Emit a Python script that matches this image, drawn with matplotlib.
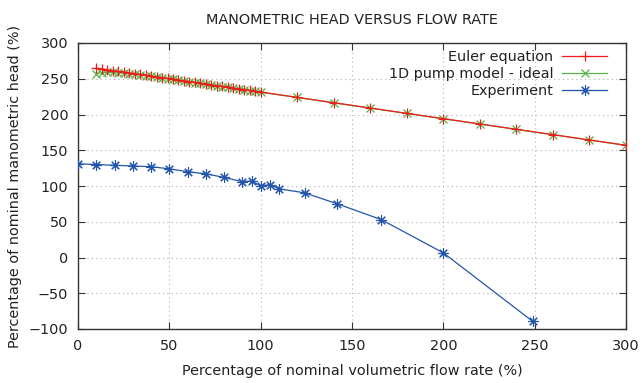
import matplotlib
matplotlib.use("Agg")
import matplotlib.pyplot as plt

# ---- data ----
flow_model = [10, 13, 16, 19, 22, 25, 28, 31, 34, 37, 40, 43, 46, 49, 52, 55, 58,
              61, 64, 67, 70, 73, 76, 79, 82, 85, 88, 91, 94, 97, 100,
              120, 140, 160, 180, 200, 220, 240, 260, 280, 300]
euler_head = [264.9, 263.8, 262.6, 261.5, 260.4, 259.3, 258.2, 257.1, 256.0, 254.8,
              253.7, 252.6, 251.5, 250.4, 249.3, 248.2, 247.0, 245.9, 244.8, 243.7,
              242.6, 241.4, 240.3, 239.2, 238.1, 237.0, 235.9, 234.7, 233.6, 232.5,
              231.4, 224.0, 216.5, 209.1, 201.6, 194.2, 186.8, 179.3, 171.9, 164.4, 157.0]
ideal_head = [257.0, 258.3, 258.8, 258.8, 258.4, 257.8, 257.1, 256.4, 255.5, 254.4,
              253.4, 252.3, 251.2, 250.1, 249.0, 247.9, 246.8, 245.7, 244.6, 243.5,
              242.4, 241.2, 240.1, 239.0, 237.9, 236.8, 235.7, 234.5, 233.4, 232.3,
              231.2, 223.8, 216.3, 208.9, 201.4, 194.0, 186.6, 179.1, 171.7, 164.2, 156.8]
flow_exp = [0, 10, 20, 30, 40, 50, 60, 70, 80, 90, 95, 100, 105, 110, 124, 142, 166, 200, 249]
head_exp = [131, 130, 129, 128, 127, 124, 120, 117, 112, 106, 107, 100, 102, 96, 90.5,
            75, 53, 6.5, -89.5]

x_ticks = [0, 50, 100, 150, 200, 250, 300]
y_ticks = [-100, -50, 0, 50, 100, 150, 200, 250, 300]

title = "MANOMETRIC HEAD VERSUS FLOW RATE"
xlabel = "Percentage of nominal volumetric flow rate (%)"
ylabel = "Percentage of nominal manometric head (%)"

# ---- style ----
fs = 10.4
plt.rcParams['font.family'] = ['DejaVu Sans']
plt.rcParams['font.size'] = fs
text_c = '#222222'

W, H = 642, 383
L, R, T, B = 78, 626, 43, 329
fig = plt.figure(figsize=(W/100, H/100), dpi=100)
ax = fig.add_axes([L/W, 1-B/H, (R-L)/W, (B-T)/H])

red = '#ee1c1c'
green = '#55b444'
blue = '#2255aa'

ax.plot(flow_model, euler_head, color=red, lw=0.9, marker='+', ms=7.5, mew=0.9,
        label='Euler equation', zorder=4)
ax.plot(flow_model, ideal_head, color=green, lw=0.9, marker='x', ms=6.0, mew=0.9,
        label='1D pump model - ideal', zorder=3)
ax.plot(flow_exp, head_exp, color=blue, lw=0.9, marker=(8, 2, 0), ms=7.5, mew=0.8,
        label='Experiment', zorder=5)

ax.set_xlim(0, 300)
ax.set_ylim(-100, 300)
ax.set_xticks(x_ticks)
ax.set_yticks(y_ticks)
ax.tick_params(direction='in', length=5, width=0.8, top=True, right=True,
               colors='#333333', labelcolor=text_c, labelsize=fs, pad=7)
ax.grid(True, color='#b0b0b0', linestyle=(0, (1, 3)), lw=0.8)
for s in ax.spines.values():
    s.set_color('#333333')
    s.set_linewidth(1.0)

ax.set_title(title, fontsize=fs, color=text_c, pad=14)
ax.set_xlabel(xlabel, fontsize=fs, color=text_c, labelpad=8)
ax.set_ylabel(ylabel, fontsize=fs, color=text_c, labelpad=5)

leg = ax.legend(loc='upper right', frameon=False, markerfirst=False,
                bbox_to_anchor=((607-L)/(R-L), (B-50)/(B-T)),
                handlelength=3.1, labelspacing=0.2, borderaxespad=0, borderpad=0,
                handletextpad=0.6, fontsize=fs)
for t in leg.get_texts():
    t.set_color(text_c)

fig.savefig('out.png', dpi=100)
